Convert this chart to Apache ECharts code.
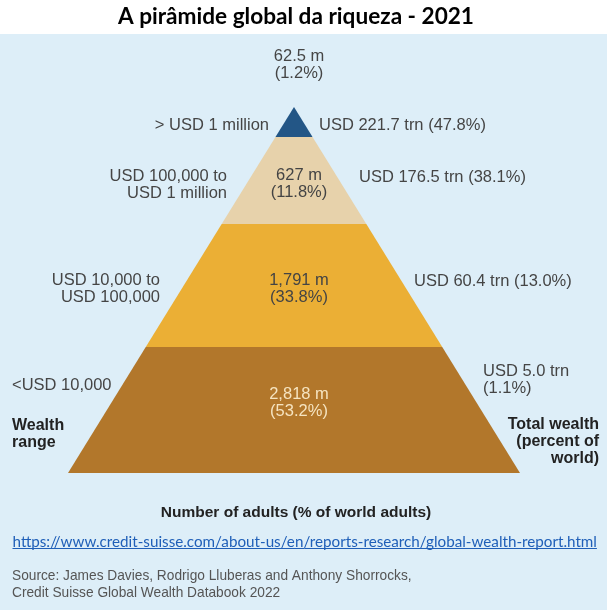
<!DOCTYPE html>
<html><head><meta charset="utf-8">
<script src="https://cdn.jsdelivr.net/npm/echarts@6/dist/echarts.min.js"></script>
<style>html,body{margin:0;padding:0;background:#fff}#c{width:607px;height:610px}</style>
</head><body><div id="c"></div>
<script>
// ---- data ----
const wealthRanges = ['> USD 1 million', 'USD 100,000 to\nUSD 1 million', 'USD 10,000 to\nUSD 100,000', '<USD 10,000'];
const adults = ['62.5 m', '627 m', '1,791 m', '2,818 m'];
const adultsPct = ['1.2%', '11.8%', '33.8%', '53.2%'];
const totalWealth = ['USD 221.7 trn', 'USD 176.5 trn', 'USD 60.4 trn', 'USD 5.0 trn'];
const wealthPct = ['47.8%', '38.1%', '13.0%', '1.1%'];
// relative depth of each band's upper and lower edge in the pyramid (0 = apex, 1 = base)
const bandTop = [0, 0.082, 0.320, 0.656];
const bandBottom = [0.082, 0.320, 0.656, 1];

const titleText = 'A pirâmide global da riqueza - 2021';
const xAxisName = 'Number of adults (% of world adults)';
const linkText = 'https://www.credit-suisse.com/about-us/en/reports-research/global-wealth-report.html';
const sourceText = 'Source: James Davies, Rodrigo Lluberas and Anthony Shorrocks,\nCredit Suisse Global Wealth Databook 2022';

// ---- styles ----
const bandColors = ['#235686', '#e7d2ab', '#ebaf35', '#b2772b'];
const insideColors = ['#444', '#444', '#444', '#f6e4c0'];
const txt = '#454545';
const SANS = '"Liberation Sans", Arial, sans-serif';

const cv = document.createElement('canvas').getContext('2d');
function fit(text, weight, family, w) {
  cv.font = weight + ' 100px ' + family;
  return 100 * w / cv.measureText(text).width;
}
const titleSize = fit(titleText, 'bold', 'Lato', 356);
const linkSize = fit(linkText, 'normal', 'Lato', 585);
const srcSize = fit(sourceText.split('\n')[0], 'normal', SANS, 400);
cv.font = 'normal ' + linkSize + 'px Lato';
const linkW = cv.measureText(linkText).width;

function t(text, x, y, opts) {
  return Object.assign({
    type: 'text', z: 10,
    style: Object.assign({
      text: text, x: x, y: y, fill: txt,
      font: '16.5px ' + SANS, align: 'left', verticalAlign: 'middle', lineHeight: 17
    }, opts || {})
  });
}

const cx = 299;
const graphics = [
  { type: 'rect', z: -5, shape: { x: 0, y: 34, width: 607, height: 576 }, style: { fill: '#ddeef8' } },
  t(titleText, 296, 17, { font: 'bold ' + titleSize + 'px Lato', fill: '#000', align: 'center' }),
  // top band label above apex
  t(adults[0] + '\n(' + adultsPct[0] + ')', cx, 65, { align: 'center' }),
  // left labels
  t(wealthRanges[0], 269, 125, { align: 'right' }),
  t(wealthRanges[1], 227, 185, { align: 'right' }),
  t(wealthRanges[2], 160, 289, { align: 'right' }),
  t(wealthRanges[3], 12, 385, { align: 'left' }),
  // right labels
  t(totalWealth[0] + ' (' + wealthPct[0] + ')', 319, 125),
  t(totalWealth[1] + ' (' + wealthPct[1] + ')', 359, 177),
  t(totalWealth[2] + ' (' + wealthPct[2] + ')', 414, 281),
  t(totalWealth[3] + '\n(' + wealthPct[3] + ')', 483, 380),
  // axis titles
  t('Wealth\nrange', 12, 434, { font: 'bold 16px ' + SANS, fill: '#222' }),
  t('Total wealth\n(percent of\nworld)', 599, 442, { font: 'bold 16px ' + SANS, fill: '#222', align: 'right' }),
  t(xAxisName, 296, 513, { font: 'bold 15.5px ' + SANS, fill: '#222', align: 'center' }),
  // link + underline
  t(linkText, 12.5, 542, { font: linkSize + 'px Lato', fill: '#1f5fb8' }),
  { type: 'line', z: 10, shape: { x1: 12.5, y1: 548.5, x2: 12.5 + linkW, y2: 548.5 }, style: { stroke: '#1f5fb8', lineWidth: 1 } },
  // source
  t(sourceText, 12, 584.5, { font: srcSize + 'px ' + SANS, fill: '#555' })
];

// inside labels (bands 2-4), positioned by band
const insideY = [null, 184, 289, 403];
for (let i = 1; i < 4; i++) {
  graphics.push(t(adults[i] + '\n(' + adultsPct[i] + ')', cx, insideY[i], { align: 'center', fill: insideColors[i] }));
}

const chart = echarts.init(document.getElementById('c'), null, { renderer: 'canvas' });
chart.setOption({
  animation: false,
  backgroundColor: '#fff',
  grid: { left: 68, right: 87, top: 107, bottom: 137 },
  xAxis: { type: 'value', min: -1, max: 1, show: false },
  yAxis: { type: 'value', min: 0, max: 1, inverse: true, show: false },
  graphic: graphics,
  series: [{
    type: 'custom',
    z: 2,
    data: bandTop.map((v, i) => [v, bandBottom[i]]),
    renderItem: function (params, api) {
      const a = api.value(0), b = api.value(1);
      return {
        type: 'polygon',
        shape: { points: [api.coord([-a, a]), api.coord([a, a]), api.coord([b, b]), api.coord([-b, b])] },
        style: { fill: bandColors[params.dataIndex] }
      };
    }
  }]
});
</script>
</body></html>
